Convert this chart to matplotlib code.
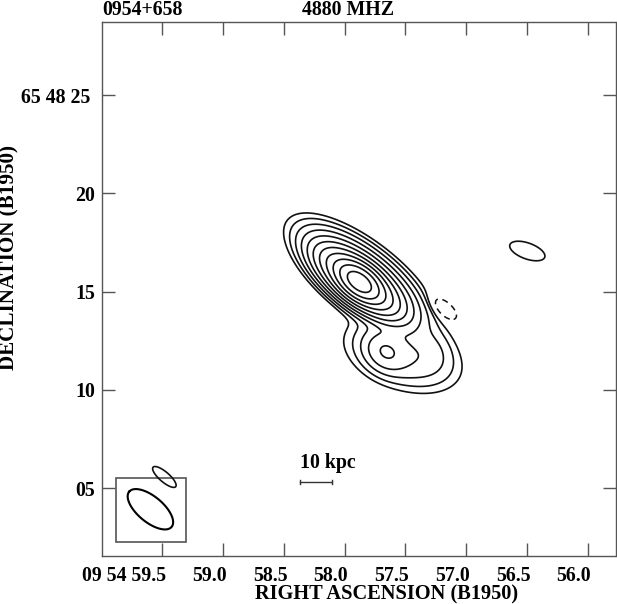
import numpy as np
import matplotlib.pyplot as plt
from matplotlib.transforms import ScaledTranslation

plt.rcParams['font.family'] = ['Liberation Serif', 'DejaVu Serif']
plt.rcParams['font.weight'] = 'bold'
plt.rcParams['font.size'] = 14.3

# source model: gaussian components (RA seconds, Dec arcsec of 65 48, peak, FWHM maj/min arcsec, PA deg)
comp_ra = [57.879, 57.879, 57.853, 57.665, 57.525, 57.278, 57.188, 56.496, 59.484]
comp_dec = [15.49, 15.49, 15.69, 11.93, 11.78, 12.03, 14.12, 17.07, 5.565]
comp_peak = [1100, 500, 60, 11, 8, 2.0, -2.6, 1.5, 1.5]
comp_maj = [1.44, 2.63, 3.94, 1.52, 3.55, 1.73, 1.45, 2.45, 1.98]
comp_min = [0.86, 1.11, 1.57, 1.22, 2.03, 1.42, 0.72, 1.06, 0.66]
comp_pa = [52, 52, 52, 50, 70, 30, 50, 70, 49]

pos_levels = [1, 2, 4, 8, 16, 32, 64, 128, 256, 512, 1024]
neg_levels = [-1]

# restoring beam
beam_ra, beam_dec = 59.599, 3.92
beam_maj, beam_min, beam_pa = 2.8, 1.3, 50

# 10 kpc scale bar
bar_ra = [58.370, 58.107]
bar_dec = 5.33

xticks = [59.5, 59.0, 58.5, 58.0, 57.5, 57.0, 56.5, 56.0]
xlabels = ['09 54 59.5', '59.0', '58.5', '58.0', '57.5', '57.0', '56.5', '56.0']
yticks = [5, 10, 15, 20, 25]
ylabels = ['05', '10', '15', '20', '65 48 25']

cosd = np.cos(np.radians(65 + 48 / 60 + 25 / 3600))

ra = np.linspace(60.0, 55.77, 900)
dec = np.linspace(1.54, 28.73, 900)
RA, DEC = np.meshgrid(ra, dec)
img = np.zeros_like(RA)
for r0, d0, p, fmaj, fmin, pa in zip(comp_ra, comp_dec, comp_peak, comp_maj, comp_min, comp_pa):
    e = (RA - r0) * 15 * cosd
    n = DEC - d0
    t = np.radians(pa)
    a = e * np.sin(t) + n * np.cos(t)
    b = e * np.cos(t) - n * np.sin(t)
    img += p * np.exp(-4 * np.log(2) * ((a / fmaj) ** 2 + (b / fmin) ** 2))

fig = plt.figure(figsize=(6.17, 6.04), dpi=100)
ax = fig.add_axes([101.7 / 617, 48 / 604, 513.8 / 617, 534 / 604])

ax.contour(RA, DEC, img, levels=pos_levels, colors='#111111', linewidths=1.2, linestyles='solid')
ax.contour(RA, DEC, img, levels=neg_levels, colors='#111111', linewidths=1.1, linestyles=[(0, (4, 3))])

# beam box + ellipse
ax.add_patch(plt.Rectangle((59.881, 2.27), 59.308 - 59.881, 5.53 - 2.27, fill=False,
                           edgecolor='#555555', lw=1.2, zorder=1))
phi = np.linspace(0, 2 * np.pi, 200)
ba = beam_maj / 2 * np.cos(phi)
bb = beam_min / 2 * np.sin(phi)
t = np.radians(beam_pa)
be = ba * np.sin(t) + bb * np.cos(t)
bn = ba * np.cos(t) - bb * np.sin(t)
ax.plot(beam_ra + be / (15 * cosd), beam_dec + bn, color='black', lw=1.5)

# scale bar
ax.plot(bar_ra, [bar_dec, bar_dec], color='#333333', lw=1.0)
for x in bar_ra:
    ax.plot([x, x], [bar_dec - 0.1, bar_dec + 0.1], color='#333333', lw=1.0)
ax.text(58.364, 6.04, '10 kpc', ha='left', va='baseline')

ax.set_xlim(60.0, 55.77)
ax.set_ylim(1.54, 28.73)
ax.set_xticks(xticks)
ax.set_xticklabels(xlabels)
ax.set_yticks(yticks)
ax.set_yticklabels(ylabels)
ax.tick_params(direction='in', length=9.4, width=1.0, color='#555555', top=True, right=True)
ax.tick_params(axis='x', pad=7.5)
ax.tick_params(axis='y', pad=4.8)
for s in ax.spines.values():
    s.set_color('#555555')
    s.set_linewidth(1.0)

for lab in ax.get_xticklabels():
    lab.set_horizontalalignment('right')
    lab.set_transform(lab.get_transform() + ScaledTranslation(3.5 / 100, 0, fig.dpi_scale_trans))
lab = ax.get_yticklabels()[-1]
lab.set_transform(lab.get_transform() + ScaledTranslation(-5 / 100, 0, fig.dpi_scale_trans))

fig.text(102.7 / 617, 1 - 15 / 604, '0954+658', ha='left', va='baseline')
fig.text(302 / 617, 1 - 15 / 604, '4880 MHZ', ha='left', va='baseline')
fig.text(387 / 617, 1 - 599.5 / 604, 'RIGHT ASCENSION (B1950)', ha='center', va='baseline', fontsize=14.7)
fig.text(9.5 / 617, 1 - 257.5 / 604, 'DECLINATION (B1950)', ha='center', va='center',
         rotation=90, fontsize=15.2)

fig.savefig('out.png', dpi=100)
